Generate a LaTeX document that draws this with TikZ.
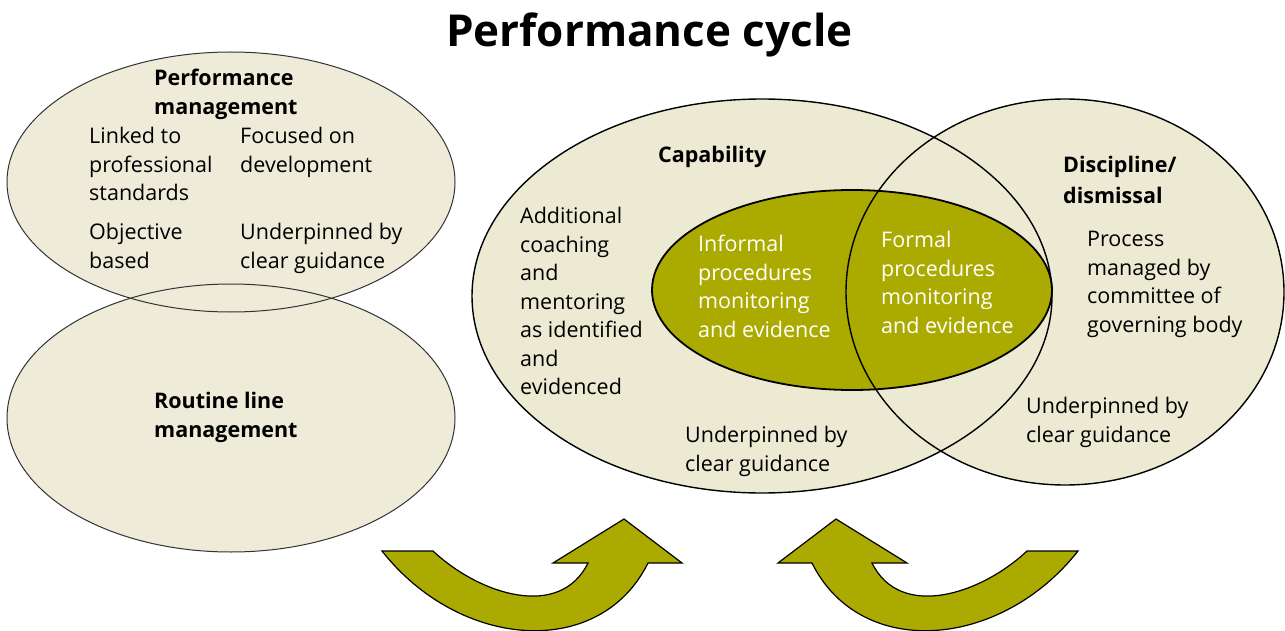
\documentclass[tikz,border=0pt]{standalone}
\usepackage{fontspec}
\setmainfont{Open Sans}
\usetikzlibrary{shapes.geometric}
\definecolor{beigeL}{RGB}{238,236,217}
\definecolor{beigeR}{RGB}{236,234,211}
\definecolor{olivec}{RGB}{171,170,0}
\tikzset{
  txt/.style={anchor=north west, inner sep=0pt, align=left, font=\fontsize{21.5}{28.5}\selectfont},
  headtxt/.style={txt, font=\fontsize{21.5}{28.5}\selectfont\bfseries},
  wtxt/.style={txt, text=white},
  blob/.style={ellipse, inner sep=0pt, outer sep=0pt},
  leftline/.style={draw=black!80, line width=1pt},
  rightline/.style={draw=black, line width=1.4pt},
  oliveline/.style={draw=black, line width=1.8pt},
  bigarrow/.style={fill=olivec, draw=black, line width=1.2pt, line join=miter},
}
\begin{document}
\begin{tikzpicture}[x=1pt, y=-1pt]
\useasboundingbox (0,0) rectangle (1285,631);
\fill[white] (0,0) rectangle (1285,631);

% title
\node[anchor=base west, inner sep=0pt, font=\fontsize{44}{50}\selectfont\bfseries] (title) at (446,47) {Performance cycle};

% left ellipses
\node[blob, fill=beigeL, minimum width=448pt, minimum height=260pt] (pm) at (231,182) {};
\node[blob, fill=beigeL, minimum width=448pt, minimum height=268pt] (rlm) at (231,418) {};
\draw[leftline] (pm.center) ellipse [x radius=224, y radius=130];
\draw[leftline] (rlm.center) ellipse [x radius=224, y radius=134];

% right group
\node[blob, fill=beigeR, minimum width=580pt, minimum height=394pt] (cap) at (762,296) {};
\node[blob, fill=beigeR, minimum width=438pt, minimum height=386pt] (disc) at (1065,292) {};
\node[blob, fill=olivec, minimum width=400pt, minimum height=200pt] (proc) at (852,290) {};
\draw[oliveline] (proc.center) ellipse [x radius=200, y radius=100];
\draw[rightline] (cap.center) ellipse [x radius=290, y radius=197];
\draw[rightline] (disc.center) ellipse [x radius=219, y radius=193];

% texts left
\node[headtxt] (pmh) at (154,69) {Performance\\management};
\node[txt] (pm1) at (89,127) {Linked to\\professional\\standards};
\node[txt] (pm2) at (240,127) {Focused on\\development};
\node[txt] (pm3) at (89,223) {Objective\\based};
\node[txt] (pm4) at (240,223) {Underpinned by\\clear guidance};
\node[headtxt] (rlmh) at (154,392) {Routine line\\management};

% texts capability
\node[headtxt] (caph) at (658,146) {Capability};
\node[txt] (cap1) at (520,207) {Additional\\coaching\\and\\mentoring\\as identified\\and\\evidenced};
\node[wtxt] (inf) at (698,235) {Informal\\procedures\\monitoring\\and evidence};
\node[wtxt] (form) at (881,231) {Formal\\procedures\\monitoring\\and evidence};
\node[txt] (cap2) at (685,426) {Underpinned by\\clear guidance};

% texts discipline
\node[headtxt] (disch) at (1063,156) {Discipline/\\[2pt]dismissal};
\node[txt] (disc1) at (1087,231) {Process\\managed by\\committee of\\governing body};
\node[txt] (disc2) at (1026,397) {Underpinned by\\clear guidance};

% curved arrows
\begin{scope}
\clip (0,0) rectangle (1285,631);
\draw[bigarrow] (382,551) -- (433,551) .. controls (480,595) and (560,620) .. (588,563)
  -- (553,563) -- (624,519) -- (682,563) -- (648,563)
  .. controls (600,660) and (460,650) .. (382,551) -- cycle;
\draw[bigarrow] (1078,551) -- (1027,551) .. controls (980,595) and (900,620) .. (872,563)
  -- (907,563) -- (836,519) -- (778,563) -- (812,563)
  .. controls (860,660) and (1000,650) .. (1078,551) -- cycle;
\end{scope}
\end{tikzpicture}
\end{document}
